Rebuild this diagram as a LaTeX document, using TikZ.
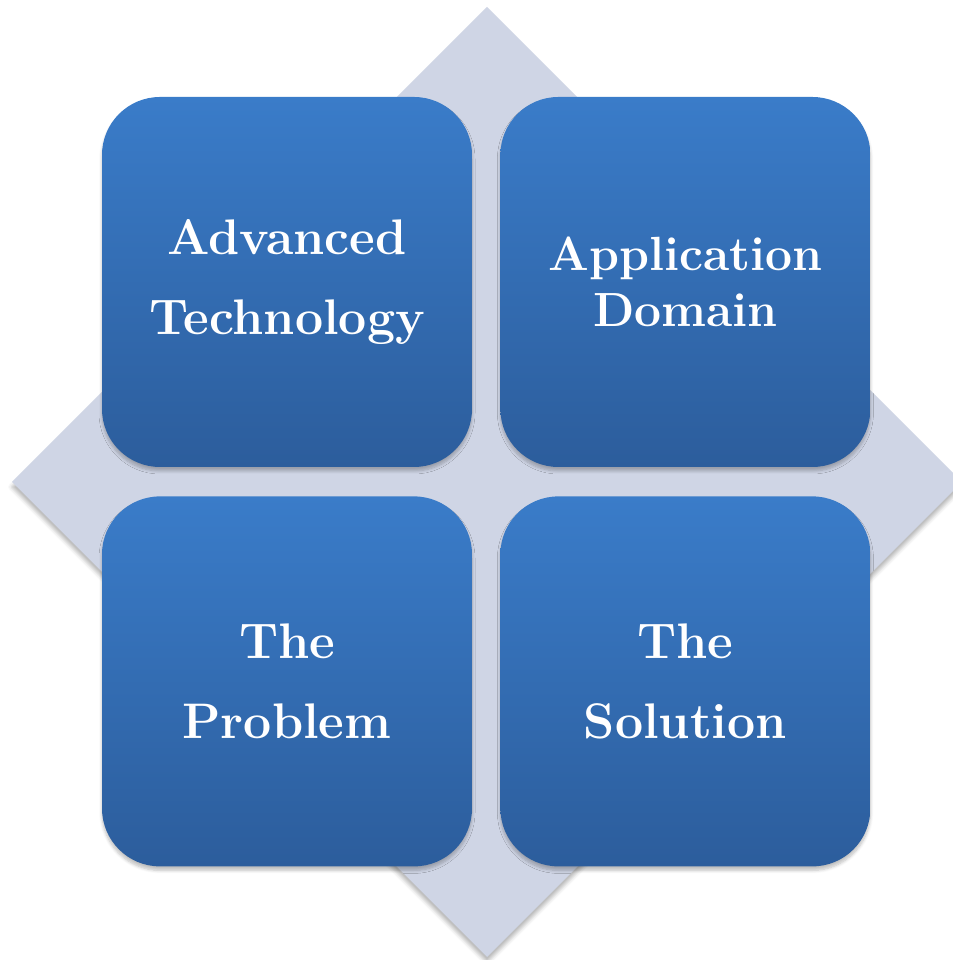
\documentclass[tikz,border=0pt]{standalone}
\usepackage{fontspec}
\usetikzlibrary{positioning,shadows.blur}
\definecolor{tiletop}{RGB}{58,124,201}
\definecolor{tilebottom}{RGB}{44,93,156}
\definecolor{backdrop}{RGB}{207,213,229}
\tikzstyle{every node}=[inner sep=0pt]
\tikzstyle{tile}=[rectangle,rounded corners=58pt,minimum width=370pt,minimum height=370pt,top color=tiletop,bottom color=tilebottom,text=white,align=center,font=\fontsize{50}{80}\selectfont\bfseries,blur shadow={shadow xshift=0pt,shadow yshift=-4pt,shadow blur radius=3pt,shadow blur steps=6,shadow opacity=25}]
\tikzstyle{plate}=[fill=backdrop,blur shadow={shadow xshift=0pt,shadow yshift=-5pt,shadow blur radius=4pt,shadow opacity=30}]

\begin{document}
\begin{tikzpicture}[x=1pt,y=1pt]
\useasboundingbox (0,0) rectangle (952,960);

\coordinate (top) at (487,953);
\coordinate (right) at (962,478);
\coordinate (bottom) at (487,3);
\coordinate (left) at (12,478);
\path[plate] (top) -- (right) -- (bottom) -- (left) -- cycle;

\node[tile] (tech) at (287,678) {Advanced\\Technology};
\node[tile,right=28pt of tech,font=\fontsize{48}{56}\selectfont\bfseries] (domain) {Application\\Domain};
\node[tile,below=29pt of tech] (problem) {The\\Problem};
\node[tile,below=29pt of domain] (solution) {The\\Solution};
\end{tikzpicture}
\end{document}
